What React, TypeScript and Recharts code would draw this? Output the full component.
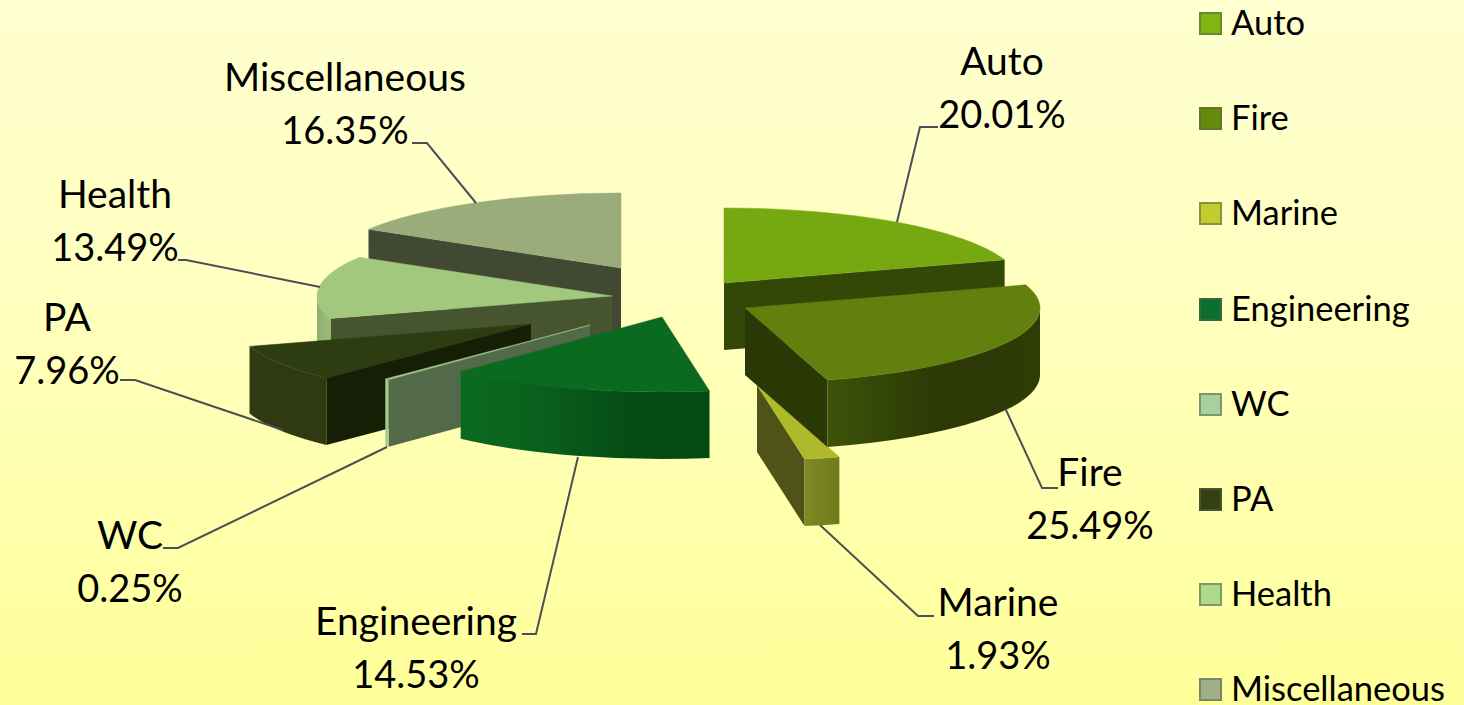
import React from "react";
import { PieChart, Pie, Legend } from "recharts";

const categories = ["Auto", "Fire", "Marine", "Engineering", "WC", "PA", "Health", "Miscellaneous"];
const shares = [20.01, 25.49, 1.93, 14.53, 0.25, 7.96, 13.49, 16.35];

// Slices are painted back to front, so the ring runs counter-clockwise from Auto
const paintOrder = [0, 7, 6, 5, 4, 3, 2, 1];
const pieData = paintOrder.map((i) => ({ name: categories[i], value: shares[i] }));

const total = shares.reduce((a, b) => a + b, 0);
const START_ANGLE = 90 - (shares[0] / total) * 360;

const WIDTH = 1464;
const HEIGHT = 705;
const CX = 670;
const CY = 300;
const RADIUS = 295;
const SQUASH = 75 / 295;
const DEPTH = 67;
const FONT = "Lato, 'Noto Sans', sans-serif";

type SliceLook = {
  top: string;
  edge: string;
  rim: string[];
  legend: string;
  shift: [number, number];
};

const looks: Record<string, SliceLook> = {
  Auto: { top: "#76a812", edge: "#334706", rim: ["#334706", "#334706"], legend: "#7fb612", shift: [54, -17] },
  Fire: { top: "#61800e", edge: "#2a3806", rim: ["#3e5308", "#344607", "#2c3a06", "#2c3806", "#2f3d06"], legend: "#678a0a", shift: [75, 8] },
  Marine: { top: "#afb92c", edge: "#4f5317", rim: ["#7f8a24", "#6f7a1c"], legend: "#c2cc2e", shift: [87, 85] },
  Engineering: { top: "#0a6b20", edge: "#0a5a1c", rim: ["#0a6a20", "#0a5f1c", "#054c15", "#044a14"], legend: "#0a7030", shift: [-8, 17] },
  WC: { top: "#a5cc8e", edge: "#52694a", rim: ["#a5cc8e", "#a5cc8e"], legend: "#a8d09a", shift: [-80, 25] },
  PA: { top: "#2e3d11", edge: "#161f06", rim: ["#2f3a10", "#2f3a10"], legend: "#364015", shift: [-139, 24] },
  Health: { top: "#a2c87e", edge: "#46552f", rim: ["#8fb070", "#9abc78"], legend: "#aed88a", shift: [-58, -4] },
  Miscellaneous: { top: "#9aab7c", edge: "#414932", rim: ["#414932", "#414932"], legend: "#a1b084", shift: [-49, -32] },
};

// label centre x, first baseline, then the leader line
const callouts: Record<string, { x: number; y: number; line: string }> = {
  Auto: { x: 1002, y: 75, line: "897,222 920,127 938,127" },
  Fire: { x: 1090, y: 486, line: "1006,410 1042,488 1058,488" },
  Marine: { x: 998, y: 616, line: "820,525 918,616 934,616" },
  Engineering: { x: 416, y: 635, line: "578,457 536,634 522,634" },
  WC: { x: 130, y: 549, line: "387,447 178,548 163,548" },
  PA: { x: 67, y: 331, line: "283,430 135,380 120,380" },
  Health: { x: 115, y: 208, line: "320,287 186,260 178,260" },
  Miscellaneous: { x: 345, y: 91, line: "476,203 427,143 412,143" },
};

const rad = (deg: number) => (deg * Math.PI) / 180;

function Slice(props: any) {
  const { cx, cy, outerRadius: r, startAngle, endAngle, name } = props;
  const look = looks[name];
  const a0 = Math.min(startAngle, endAngle);
  const a1 = Math.max(startAngle, endAngle);
  const ry = r * SQUASH;
  const ox = cx + look.shift[0];
  const oy = cy + look.shift[1];
  const at = (a: number, drop = 0) => [ox + r * Math.cos(rad(a)), oy - ry * Math.sin(rad(a)) + drop];
  const [sx, sy] = at(a0);
  const [ex, ey] = at(a1);
  const [mx, my] = at((a0 + a1) / 2);

  // a radial cut face shows only when the slice top lies above its edge
  const facesViewer = (px: number, py: number) => {
    if (Math.abs(px - ox) < 0.5) return false;
    return my < oy + ((py - oy) * (mx - ox)) / (px - ox);
  };
  const cutFace = (px: number, py: number) =>
    `M${ox},${oy} L${px},${py} L${px},${py + DEPTH} L${ox},${oy + DEPTH} Z`;

  // the outer rim is visible only along the front half of the ellipse
  const lo = Math.max(a0, 180);
  const hi = Math.min(a1, 360);
  let rim = "";
  if (hi > lo) {
    const [lx, ly] = at(lo);
    const [hx, hy] = at(hi);
    rim = `M${lx},${ly} A${r},${ry} 0 0 0 ${hx},${hy} L${hx},${hy + DEPTH} A${r},${ry} 0 0 1 ${lx},${ly + DEPTH} Z`;
  }
  const gradientId = `rim-${name}`;
  const large = a1 - a0 > 180 ? 1 : 0;

  return (
    <g>
      <defs>
        <linearGradient id={gradientId} x1="0" y1="0" x2="1" y2="0">
          {look.rim.map((c, i) => (
            <stop key={i} offset={i / (look.rim.length - 1)} stopColor={c} />
          ))}
        </linearGradient>
      </defs>
      {facesViewer(sx, sy) && <path d={cutFace(sx, sy)} fill={look.edge} />}
      {facesViewer(ex, ey) && <path d={cutFace(ex, ey)} fill={look.edge} />}
      {rim && <path d={rim} fill={`url(#${gradientId})`} />}
      <path
        d={`M${ox},${oy} L${sx},${sy} A${r},${ry} 0 ${large} 0 ${ex},${ey} Z`}
        fill={look.top}
        stroke={look.top}
        strokeWidth={0.5}
      />
    </g>
  );
}

function Callout(props: any) {
  const c = callouts[props.name];
  return (
    <g>
      <polyline points={c.line} fill="none" stroke="#4b4f57" strokeWidth={2} />
      <text x={c.x} y={c.y} textAnchor="middle" fontFamily={FONT} fontSize={39} fill="#000">
        {props.name}
      </text>
      <text x={c.x} y={c.y + 53} textAnchor="middle" fontFamily={FONT} fontSize={38} fill="#000">
        {`${props.value.toFixed(2)}%`}
      </text>
    </g>
  );
}

function LegendList() {
  return (
    <div>
      {categories.map((name) => (
        <div key={name} style={{ height: 95.2, display: "flex", alignItems: "center" }}>
          <span
            style={{
              width: 19,
              height: 19,
              marginRight: 9,
              background: looks[name].legend,
              border: "2px solid rgba(90,100,80,0.55)",
              boxSizing: "content-box",
            }}
          />
          <span
            style={{
              fontFamily: FONT,
              fontSize: 34.5,
              lineHeight: "36px",
              marginTop: -3,
              color: "#000",
              whiteSpace: "nowrap",
            }}
          >
            {name}
          </span>
        </div>
      ))}
    </div>
  );
}

export default function App() {
  return (
    <div
      style={{
        position: "absolute",
        left: 0,
        top: 0,
        width: WIDTH,
        height: HEIGHT,
        overflow: "hidden",
        background: "linear-gradient(180deg, #ffffd0 0%, #ffffc0 40%, #ffffac 72%, #ffff99 100%)",
      }}
    >
      <PieChart width={WIDTH} height={HEIGHT} margin={{ top: 0, right: 0, bottom: 0, left: 0 }}>
        <Pie
          data={pieData}
          dataKey="value"
          nameKey="name"
          cx={CX}
          cy={CY}
          innerRadius={0}
          outerRadius={RADIUS}
          startAngle={START_ANGLE}
          endAngle={START_ANGLE + 360}
          shape={Slice}
          label={Callout}
          labelLine={false}
          isAnimationActive={false}
          stroke="none"
        />
        <Legend
          content={<LegendList />}
          wrapperStyle={{ position: "absolute", left: 1199, top: -24, width: 265, height: 761, bottom: "auto", right: "auto" }}
        />
      </PieChart>
    </div>
  );
}
